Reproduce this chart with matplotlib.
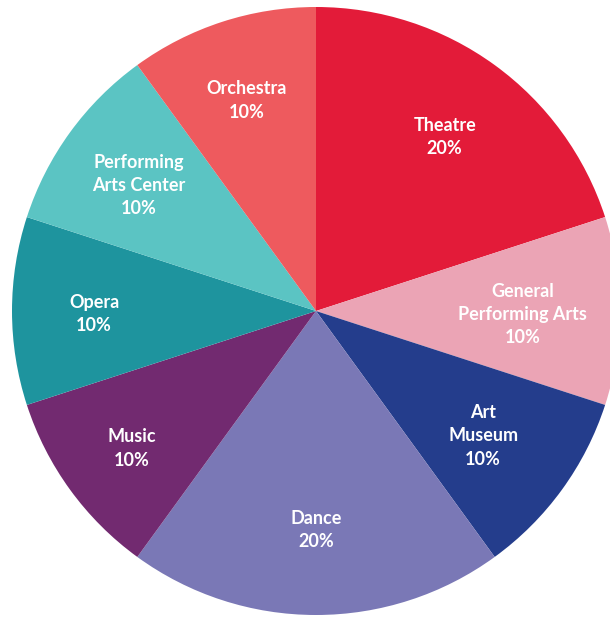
import matplotlib.pyplot as plt

# data
categories = ["Theatre", "General\nPerforming Arts", "Art\nMuseum", "Dance",
              "Music", "Opera", "Performing\nArts Center", "Orchestra"]
shares = [20, 10, 10, 20, 10, 10, 10, 10]
colors = ["#E31B39", "#EBA4B5", "#243D8C", "#7A78B6",
          "#722A70", "#1E949E", "#5BC4C3", "#EE5A5E"]

labels = [f"{c}\n{s}%" for c, s in zip(categories, shares)]
# label distance from centre, as a fraction of the radius
label_dist = [0.72, 0.68, 0.68, 0.71, 0.75, 0.73, 0.72, 0.74]

W, H = 610, 617
cx, cy, r = 316, 311, 304

fig = plt.figure(figsize=(W / 100, H / 100), dpi=100)
ax = fig.add_axes([(cx - r) / W, (H - cy - r) / H, 2 * r / W, 2 * r / H])

wedges, texts = ax.pie(shares, labels=labels, colors=colors, startangle=90,
                       counterclock=False, labeldistance=1.0, radius=1,
                       wedgeprops=dict(linewidth=0))
for t, d in zip(texts, label_dist):
    x, y = t.get_position()
    t.set_position((x * d, y * d - 0.011))
    t.set_ha("center")
    t.set_va("center")
    t.set_color("white")
    t.set_fontsize(13)
    t.set_fontfamily("Lato")
    t.set_fontweight("bold")
    t.set_linespacing(1.45)

ax.set_xlim(-1, 1)
ax.set_ylim(-1, 1)
ax.set_aspect("equal")
ax.axis("off")

fig.savefig("out.png", dpi=100)
